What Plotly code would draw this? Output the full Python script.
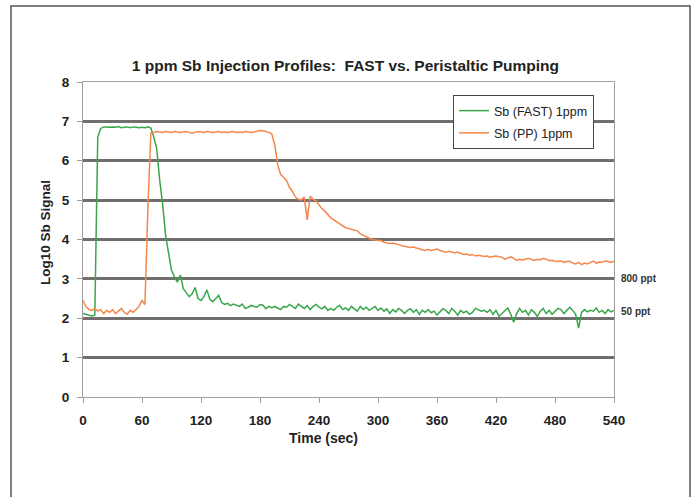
import plotly.graph_objects as go

# ---- data ----
time_sec = list(range(0, 541, 3))

fast_1ppm = [
    2.12, 2.10, 2.08, 2.06, 2.08, 6.60, 6.82, 6.86, 6.86, 6.85,
    6.86, 6.85, 6.87, 6.84, 6.85, 6.86, 6.84, 6.86, 6.85, 6.84,
    6.85, 6.84, 6.86, 6.83, 6.60, 6.30, 5.50, 4.90, 4.10, 3.60,
    3.22, 3.05, 2.92, 3.10, 2.75, 2.65, 2.55, 2.62, 2.78, 2.50,
    2.45, 2.55, 2.72, 2.48, 2.42, 2.50, 2.58, 2.40, 2.35, 2.38,
    2.32, 2.36, 2.33, 2.30, 2.36, 2.25, 2.28, 2.33, 2.30, 2.28,
    2.35, 2.33, 2.24, 2.30, 2.27, 2.30, 2.26, 2.22, 2.30, 2.28,
    2.35, 2.30, 2.25, 2.36, 2.30, 2.25, 2.32, 2.22, 2.30, 2.35,
    2.28, 2.24, 2.30, 2.20, 2.25, 2.20, 2.28, 2.33, 2.22, 2.26,
    2.20, 2.30, 2.24, 2.18, 2.30, 2.22, 2.28, 2.20, 2.25, 2.30,
    2.20, 2.26, 2.18, 2.24, 2.12, 2.22, 2.16, 2.25, 2.20, 2.12,
    2.20, 2.24, 2.15, 2.22, 2.10, 2.20, 2.15, 2.22, 2.14, 2.18,
    2.08, 2.16, 2.24, 2.20, 2.12, 2.25, 2.18, 2.08, 2.20, 2.14,
    2.18, 2.10, 2.15, 2.25, 2.22, 2.18, 2.20, 2.15, 2.22, 2.10,
    2.20, 2.05, 2.12, 2.20, 2.26, 2.10, 1.90, 2.12, 2.25, 2.15,
    2.20, 2.08, 2.22, 2.15, 2.05, 2.18, 2.25, 2.12, 2.20, 2.10,
    2.18, 2.25, 2.22, 2.12, 2.20, 2.28, 2.20, 2.10, 1.75, 2.15,
    2.22, 2.16, 2.20, 2.18, 2.26, 2.15, 2.20, 2.12, 2.22, 2.16,
    2.20,
]

pp_1ppm = [
    2.45, 2.30, 2.22, 2.20, 2.25, 2.18, 2.22, 2.12, 2.20, 2.15,
    2.22, 2.12, 2.18, 2.25, 2.15, 2.10, 2.20, 2.15, 2.22, 2.30,
    2.45, 2.35, 4.80, 6.70, 6.72, 6.74, 6.73, 6.72, 6.74, 6.73,
    6.72, 6.74, 6.73, 6.72, 6.73, 6.74, 6.72, 6.70, 6.72, 6.74,
    6.73, 6.72, 6.74, 6.73, 6.72, 6.73, 6.74, 6.72, 6.73, 6.72,
    6.73, 6.74, 6.72, 6.73, 6.72, 6.74, 6.73, 6.72, 6.73, 6.76,
    6.77, 6.76, 6.74, 6.72, 6.68, 6.40, 5.90, 5.65, 5.58, 5.50,
    5.32, 5.22, 5.08, 5.02, 5.00, 5.08, 4.50, 5.10, 5.02, 4.98,
    4.88, 4.78, 4.72, 4.62, 4.55, 4.50, 4.45, 4.40, 4.36, 4.30,
    4.28, 4.26, 4.24, 4.22, 4.14, 4.10, 4.06, 4.04, 4.00, 3.99,
    3.98, 3.97, 3.93, 3.92, 3.90, 3.91, 3.88, 3.87, 3.84, 3.83,
    3.82, 3.80, 3.81, 3.78, 3.76, 3.74, 3.72, 3.75, 3.72, 3.74,
    3.76, 3.72, 3.70, 3.68, 3.70, 3.67, 3.66, 3.68, 3.64, 3.62,
    3.63, 3.60, 3.62, 3.58, 3.60, 3.59, 3.57, 3.58, 3.55, 3.57,
    3.58, 3.56, 3.55, 3.50, 3.54, 3.56, 3.52, 3.47, 3.50, 3.48,
    3.50, 3.52, 3.49, 3.47, 3.50, 3.48, 3.52, 3.50, 3.46, 3.47,
    3.45, 3.44, 3.46, 3.42, 3.44, 3.45, 3.40, 3.38, 3.42, 3.36,
    3.40, 3.38, 3.42, 3.45, 3.40, 3.43, 3.42, 3.46, 3.44, 3.42,
    3.45,
]

x_ticks = [0, 60, 120, 180, 240, 300, 360, 420, 480, 540]
y_ticks = [0, 1, 2, 3, 4, 5, 6, 7, 8]
grid_levels = [1, 2, 3, 4, 5, 6, 7]

level_labels = ["800 ppt", "50 ppt"]
level_values = [3.0, 2.18]

title_text = "1 ppm Sb Injection Profiles:  FAST vs. Peristaltic Pumping"
x_title = "Time (sec)"
y_title = "Log10 Sb Signal"

FONT = "Liberation Sans, Arial, sans-serif"
AXIS_COLOR = "#a39d9d"
GRID_COLOR = "#726e6e"
TEXT = "#222222"

fig = go.Figure()
fig.add_trace(go.Scatter(
    x=time_sec, y=fast_1ppm, mode="lines", name="Sb (FAST) 1ppm",
    legendgroup="a", line=dict(color="#3aa64c", width=1.5)))
fig.add_trace(go.Scatter(
    x=time_sec, y=pp_1ppm, mode="lines", name="Sb (PP) 1ppm",
    legendgroup="b", line=dict(color="#f5874a", width=1.5)))
# empty helper trace so the grid axis is drawn
fig.add_trace(go.Scatter(x=[], y=[], yaxis="y2", showlegend=False,
                         hoverinfo="skip"))

W, H = 695, 497
L, R, T, B = 83, 81, 82, 100
pw, ph = W - L - R, H - T - B

def px_x(p):
    return (p - L) / pw

def px_y(p):
    return (H - B - p) / ph

fig.update_layout(
    width=W, height=H,
    margin=dict(l=L, r=R, t=T, b=B),
    paper_bgcolor="white", plot_bgcolor="white",
    font=dict(family=FONT, color=TEXT),
    title=dict(text="<b>" + title_text + "</b>", x=0.497, xref="container",
               y=1 - 66 / H, yanchor="middle", xanchor="center",
               font=dict(size=15.5, family=FONT, color=TEXT)),
    showlegend=True,
    legend=dict(x=px_x(453), y=px_y(95), xanchor="left", yanchor="top",
                bordercolor="#444444", borderwidth=1, bgcolor="white",
                font=dict(size=12.5, family=FONT, color=TEXT),
                tracegroupgap=3, itemwidth=30),
    xaxis=dict(range=[0, 540], tickvals=x_ticks, showgrid=False, zeroline=False,
               showline=True, linecolor=AXIS_COLOR, linewidth=1, mirror=True,
               ticks="outside", ticklen=5, tickcolor=AXIS_COLOR,
               tickfont=dict(size=13.5, family=FONT, color=TEXT, weight="bold"),
               ticklabelstandoff=6),
    yaxis=dict(range=[0, 8], tickvals=y_ticks, showgrid=False, zeroline=False,
               showline=True, linecolor=AXIS_COLOR, linewidth=1, mirror=True,
               ticks="outside", ticklen=5, tickcolor=AXIS_COLOR,
               tickfont=dict(size=13.5, family=FONT, color=TEXT, weight="bold"),
               ticklabelstandoff=5),
    yaxis2=dict(range=[0, 8], overlaying="y", tickvals=grid_levels, showgrid=True,
                gridcolor=GRID_COLOR, gridwidth=3, showticklabels=False,
                ticks="", zeroline=False, showline=False),
)

# outer frame
fig.add_shape(type="rect", xref="paper", yref="paper",
              x0=px_x(11), x1=px_x(690), y0=px_y(520), y1=px_y(6),
              line=dict(color="#555555", width=1.5), layer="below")

# axis titles
fig.add_annotation(text="<b>" + x_title + "</b>", xref="paper", yref="paper",
                   x=px_x(323), y=px_y(438), xanchor="center", yanchor="middle",
                   showarrow=False, font=dict(size=14, family=FONT, color=TEXT))
fig.add_annotation(text="<b>" + y_title + "</b>", xref="paper", yref="paper",
                   x=px_x(45), y=px_y(233), xanchor="center", yanchor="middle",
                   showarrow=False, textangle=-90,
                   font=dict(size=13.5, family=FONT, color=TEXT))

for lab, val in zip(level_labels, level_values):
    fig.add_annotation(text="<b>" + lab + "</b>", xref="paper", yref="y",
                       x=px_x(619), y=val, xanchor="left", yanchor="middle",
                       showarrow=False,
                       font=dict(size=10, family=FONT, color="#333333"))

fig.write_html("out.html",
               config={"displayModeBar": False},
               post_script="document.body.style.margin='0';"
                           "document.body.style.overflow='hidden';")
